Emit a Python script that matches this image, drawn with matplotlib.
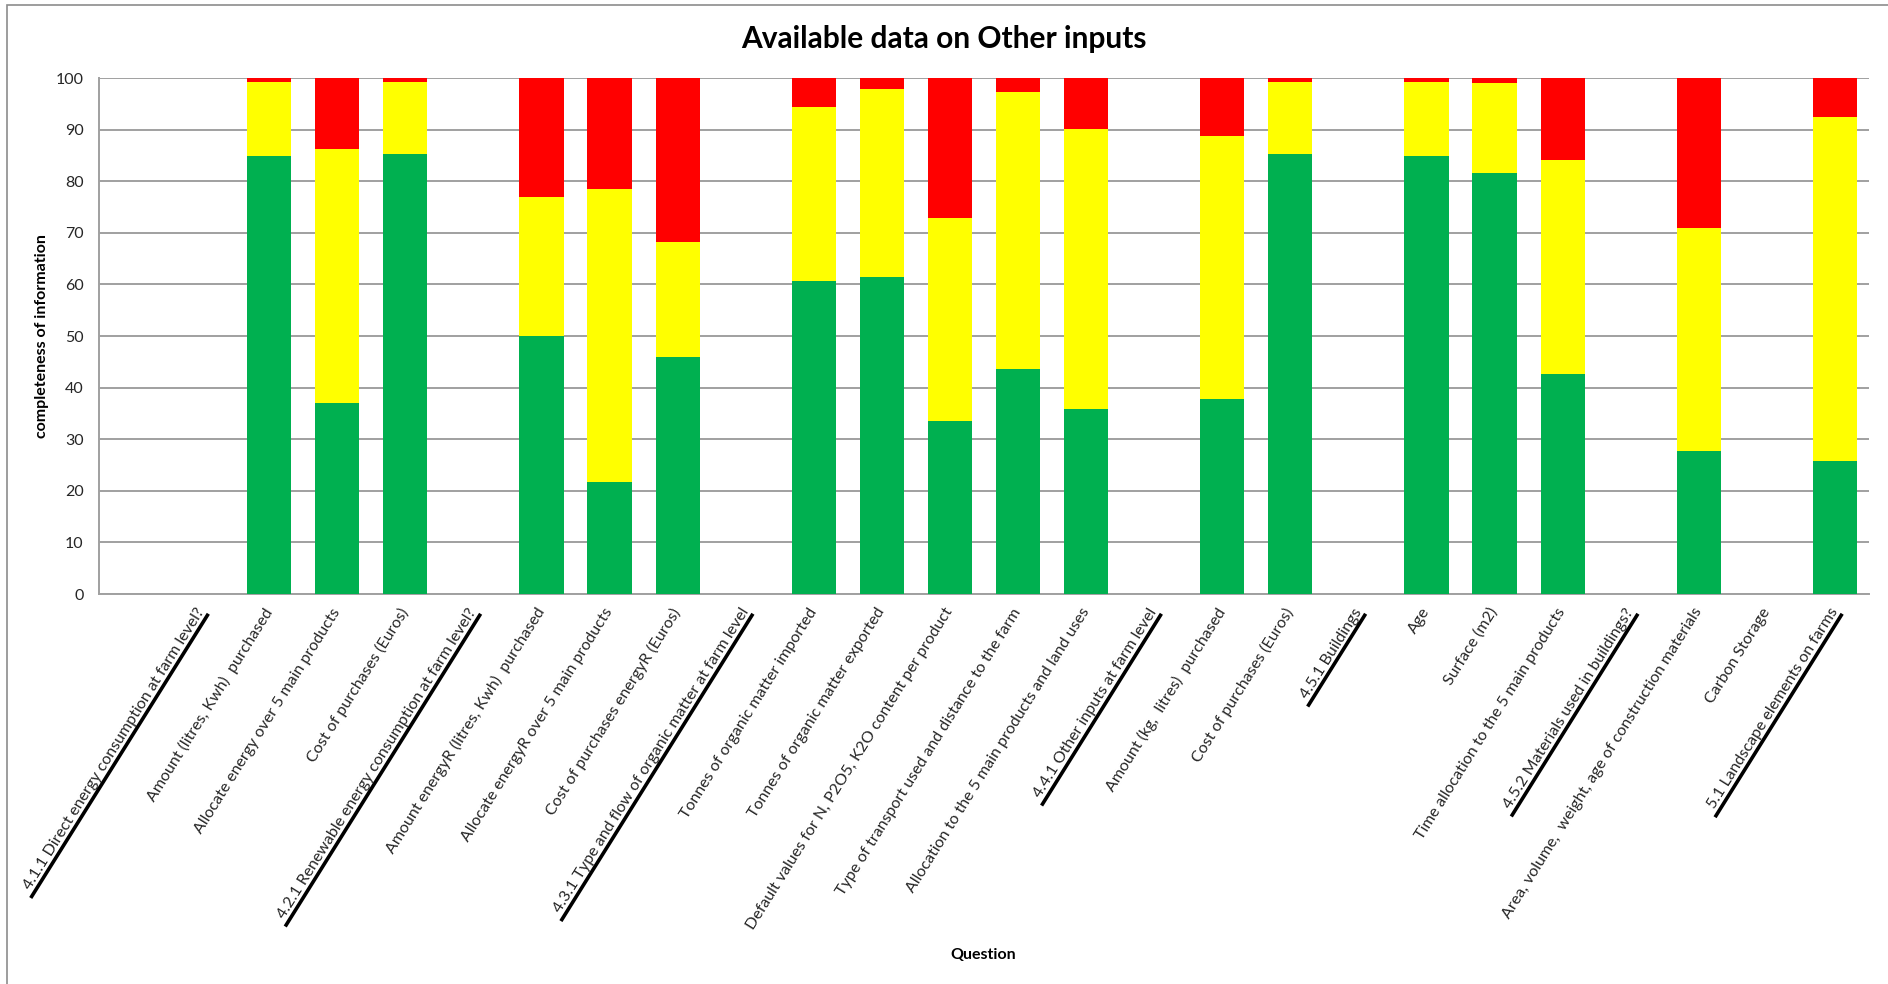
#!/usr/bin/env python
# -*- coding: utf-8 -*-

import numpy as np
import matplotlib
matplotlib.use('Agg')
import matplotlib.pyplot as plt
from matplotlib.lines import Line2D
from matplotlib.patches import Rectangle
from matplotlib.transforms import IdentityTransform

# questions on the x axis (first slot is an empty category)
questions = [
    '',
    '4.1.1 Direct energy consumption at farm level?',
    'Amount (litres, Kwh)  purchased',
    'Allocate energy over 5 main products',
    'Cost of purchases (Euros)',
    '4.2.1 Renewable energy consumption at farm level?',
    'Amount energyR (litres, Kwh)  purchased',
    'Allocate energyR over 5 main products',
    'Cost of purchases energyR (Euros)',
    '4.3.1 Type and flow of organic matter at farm level',
    'Tonnes of organic matter imported',
    'Tonnes of organic matter exported',
    'Default values for N, P2O5, K2O content per product',
    'Type of transport used and distance to the farm',
    'Allocation to the 5 main products and land uses',
    '4.4.1 Other inputs at farm level',
    'Amount (kg,  litres)  purchased',
    'Cost of purchases (Euros)',
    '4.5.1 Buildings',
    'Age',
    'Surface (m2)',
    'Time allocation to the 5 main products',
    '4.5.2 Materials used in buildings?',
    'Area, volume,  weight, age of construction materials',
    'Carbon Storage',
    '5.1 Landscape elements on farms',
]

# stacked shares (%)
green = [0, 0, 84.9, 37.1, 85.3, 0, 50.0, 21.8, 46.0, 0, 60.7, 61.5, 33.5,
         43.7, 35.8, 0, 37.8, 85.3, 0, 84.9, 81.5, 42.7, 0, 27.7, 0, 25.7]
yellow = [0, 0, 14.4, 49.2, 14.0, 0, 26.9, 56.6, 22.2, 0, 33.7, 36.4, 39.3,
          53.5, 54.3, 0, 51.0, 14.0, 0, 14.4, 17.5, 41.5, 0, 43.3, 0, 66.7]
red = [0, 0, 0.7, 13.7, 0.7, 0, 23.1, 21.6, 31.8, 0, 5.6, 2.1, 27.2,
       2.8, 9.9, 0, 11.2, 0.7, 0, 0.7, 1.0, 15.8, 0, 29.0, 0, 7.6]

# section headings that are underlined in the original
headings = [1, 5, 9, 15, 18, 22, 25]

plt.rcParams['font.family'] = ['Lato', 'DejaVu Sans']

ROT = 58


def underline_labels(fig, ax):
    """Draw a thick black line under the heading tick labels."""
    fig.canvas.draw()
    renderer = fig.canvas.get_renderer()
    c, s = np.cos(np.radians(ROT)), np.sin(np.radians(ROT))
    labels = ax.get_xticklabels()
    for i in headings:
        lbl = labels[i]
        bb = lbl.get_window_extent(renderer)
        W = bb.width
        # text length from the bbox and its unrotated height
        _, h, d = renderer.get_text_width_height_descent(
            lbl.get_text(), lbl.get_fontproperties(), ismath=False)
        w = (W - h * s) / c
        # lower-left corner of the rotated text box
        bx, by = bb.x0 + h * s, bb.y0
        gap = 1.5
        x0 = bx + gap * s - 6 * c
        y0 = by - gap * c - 6 * s
        x1 = bx + gap * s + w * c
        y1 = by - gap * c + w * s
        fig.add_artist(Line2D([x0, x1], [y0, y1], color='black', lw=2.6,
                              solid_capstyle='butt', transform=IdentityTransform()))


fig = plt.figure(figsize=(18.88, 9.84), dpi=100)
ax = fig.add_axes([99 / 1888, 1 - 594 / 984, 1770 / 1888, 516 / 984])

x = np.arange(len(questions))
bottom_y = np.array(green) + np.array(yellow)
ax.bar(x, green, width=0.65, color='#00B050', zorder=3)
ax.bar(x, yellow, width=0.65, bottom=green, color='#FFFF00', zorder=3)
ax.bar(x, red, width=0.65, bottom=bottom_y, color='#FF0000', zorder=3)

ax.set_xlim(-0.5, len(questions) - 0.5)
ax.set_ylim(0, 100)
ax.set_yticks(range(0, 101, 10))
ax.yaxis.grid(True, color='#a0a0a0', lw=1.4, zorder=0)
ax.set_axisbelow(True)
for side in ['top', 'right']:
    ax.spines[side].set_visible(False)
for side in ['left', 'bottom']:
    ax.spines[side].set_color('#a0a0a0')
    ax.spines[side].set_linewidth(1.4)

ax.tick_params(axis='y', length=0, pad=11, labelsize=11.5, labelcolor='#262626')
ax.tick_params(axis='x', length=0, pad=11, labelsize=11.5, labelcolor='#262626')
ax.set_xticks(x)
ax.set_xticklabels(questions, rotation=ROT, ha='right', va='center',
                   rotation_mode='anchor')

fig.text(42 / 1888, 1 - 336 / 984, 'completeness of information', rotation=90,
         ha='center', va='center', fontsize=11.5, fontweight='bold')
fig.text(983 / 1888, 1 - 955 / 984, 'Question', ha='center', va='center',
         fontsize=11.5, fontweight='bold')
fig.text(944 / 1888, 1 - 39 / 984, 'Available data on Other inputs',
         ha='center', va='center', fontsize=21.5, fontweight='bold')

# outer chart frame
fig.add_artist(Rectangle((7 / 1888, -0.05), 1.1, 1.05 - 5 / 984, fill=False,
                         edgecolor='#8c8c8c', lw=1.2, transform=fig.transFigure))

underline_labels(fig, ax)

fig.savefig('out.png', dpi=100)
